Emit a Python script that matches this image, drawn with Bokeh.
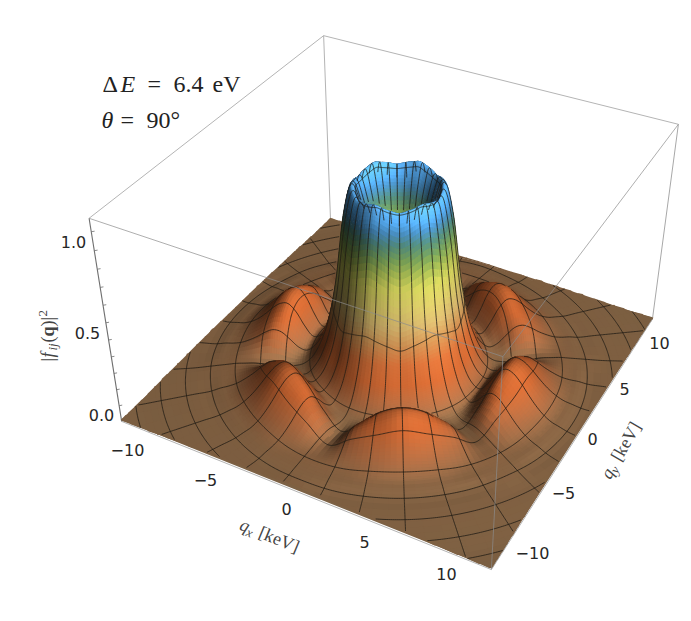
import numpy as np
from bokeh.plotting import figure
from bokeh.models import Range1d, ColumnDataSource
from bokeh.core.properties import value
from bokeh.embed import file_html
from bokeh.resources import INLINE

# ---- values -----------------------------------------------------------
HALF_RANGE = 11.5           # qx, qy box half width
Z_TOP = 1.17
QX_TICKS = [-10, -5, 0, 5, 10]
QY_TICKS = [-10, -5, 0, 5, 10]
Z_TICKS = [0.0, 0.5, 1.0]

# height profiles |f|^2 along rays: 0, 10, 20, 30 degrees away from a lobe
RADII = [0, .5, 1, 1.5, 2, 2.5, 3, 3.5, 4, 4.5, 5, 5.5, 6, 6.5, 7, 7.5, 8, 8.5, 9, 9.5, 10, 10.5, 11, 12, 13, 14, 15, 17]
Z_00 = [.62, .63, .66, .76, .96, 1.065, .85, .50, .27, .15, .09, .08, .14, .22, .265, .26, .22, .165, .115, .075, .05, .04, .03, .025, .02, .015, .01, .01]
Z_10 = [.62, .63, .66, .76, .96, 1.075, .87, .52, .29, .16, .09, .07, .12, .19, .23, .22, .185, .14, .10, .07, .05, .04, .03, .025, .02, .015, .01, .01]
Z_20 = [.62, .63, .66, .77, .97, 1.085, .90, .54, .31, .17, .09, .05, .06, .10, .14, .15, .13, .10, .075, .055, .045, .04, .03, .025, .02, .015, .01, .01]
Z_30 = [.62, .63, .66, .77, .98, 1.095, .92, .56, .32, .18, .09, .045, .03, .03, .035, .04, .045, .05, .05, .05, .045, .04, .035, .025, .02, .015, .01, .01]
LOBE_PHASE = -60.0          # direction of one of the six lobes, degrees
N_SPOKES = 32
RING_RADII = [.85, 2.3, 3.75, 5.2, 6.65, 8.1, 9.55, 11, 12.45, 13.9, 15.35]

# colour of the surface by height, before lighting
CZ = [0, .04, .1, .2, .3, .4, .5, .6, .7, .78, .85, .92, .98, 1.03, 1.1]
CR = [148, 152, 170, 195, 205, 200, 205, 210, 205, 160, 115, 80, 72, 85, 100]
CG = [115, 112, 104, 98, 108, 140, 175, 195, 205, 180, 155, 135, 140, 170, 185]
CB = [80, 76, 64, 48, 55, 80, 105, 100, 90, 80, 85, 120, 190, 240, 255]

# ---- camera: projective map fitted on the eight box corners -------------
L, T = HALF_RANGE, Z_TOP
WORLD = np.array([[-L, -L, 0], [L, -L, 0], [L, L, 0], [-L, L, 0], [-L, -L, T], [L, -L, T], [L, L, T], [-L, L, T]])
IMAGE = np.array([[121, 421], [491, 569], [652, 318], [330, 220], [89, 217], [502, 357], [678, 124], [323, 35]], float)
A = []
for (X, Y, Z), (u, v) in zip(WORLD, IMAGE):
    A.append([X, Y, Z, 1, 0, 0, 0, 0, -u * X, -u * Y, -u * Z, -u])
    A.append([0, 0, 0, 0, X, Y, Z, 1, -v * X, -v * Y, -v * Z, -v])
P = np.linalg.svd(np.array(A))[2][-1].reshape(3, 4)
P = P / (P[2] @ np.array([0, 0, 0, 1.0]))


def project(x, y, z):
    x, y, z = np.asarray(x, float), np.asarray(y, float), np.asarray(z, float)
    w = P[2, 0] * x + P[2, 1] * y + P[2, 2] * z + P[2, 3]
    u = (P[0, 0] * x + P[0, 1] * y + P[0, 2] * z + P[0, 3]) / w
    v = (P[1, 0] * x + P[1, 1] * y + P[1, 2] * z + P[1, 3]) / w
    return u, v, w


# ---- surface lookup: smooth rendering of the table above ---------------
def hermite(xk, yk, xq):
    xk = np.asarray(xk, float)
    yk = np.asarray(yk, float)
    m = np.gradient(yk, xk)
    i = np.clip(np.searchsorted(xk, xq) - 1, 0, len(xk) - 2)
    h = xk[i + 1] - xk[i]
    t = (xq - xk[i]) / h
    return ((2 * t**3 - 3 * t**2 + 1) * yk[i] + (t**3 - 2 * t**2 + t) * h * m[i]
            + (-2 * t**3 + 3 * t**2) * yk[i + 1] + (t**3 - t**2) * h * m[i + 1])


LUT_R = np.linspace(0, 17, 1701)
LUT_PHI = np.linspace(0, 30, 61)
prof = [hermite(RADII, c, LUT_R) for c in (Z_00, Z_10, Z_20, Z_30)]
ext_phi = [-20, -10, 0, 10, 20, 30, 40, 50]
ext_idx = [2, 1, 0, 1, 2, 3, 2, 1]
LUT = np.zeros((len(LUT_R), len(LUT_PHI)))
for i in range(len(LUT_R)):
    LUT[i] = hermite(ext_phi, [prof[k][i] for k in ext_idx], LUT_PHI)


def z_polar(r, th):
    r = np.asarray(r, float)
    phi = np.mod(np.asarray(th, float) - LOBE_PHASE, 60.0)
    phi = np.minimum(phi, 60.0 - phi)
    a = np.clip(r / 0.01, 0, len(LUT_R) - 1.001)
    b = np.clip(phi / 0.5, 0, len(LUT_PHI) - 1.001)
    i, j = a.astype(int), b.astype(int)
    fa, fb = a - i, b - j
    return ((1 - fa) * (1 - fb) * LUT[i, j] + fa * (1 - fb) * LUT[i + 1, j]
            + (1 - fa) * fb * LUT[i, j + 1] + fa * fb * LUT[i + 1, j + 1])


def z_xy(x, y):
    return z_polar(np.hypot(x, y), np.degrees(np.arctan2(y, x)))


# ---- depth buffer for hiding lines and unseen faces --------------------
W, H = 691, 621
zbuf = np.full((H, W), np.inf)
rs = np.concatenate([np.arange(0, 6.5, .006), np.arange(6.5, 11, .015), np.arange(11, 16.4, .03)])
ths = np.arange(0, 360, .2)
for chunk in np.array_split(rs, 40):
    rr, tt = np.meshgrid(chunk, ths, indexing="ij")
    xx, yy = rr * np.cos(np.radians(tt)), rr * np.sin(np.radians(tt))
    ok = (np.abs(xx) <= L) & (np.abs(yy) <= L)
    xx, yy, rr2, tt2 = xx[ok], yy[ok], rr[ok], tt[ok]
    u, v, w = project(xx, yy, z_polar(rr2, tt2))
    iu, iv = np.round(u).astype(int), np.round(v).astype(int)
    g = (iu >= 0) & (iu < W) & (iv >= 0) & (iv < H)
    np.minimum.at(zbuf, (iv[g], iu[g]), w[g])


def visible(u, v, w, eps):
    iu, iv = np.round(u).astype(int), np.round(v).astype(int)
    g = (iu >= 0) & (iu < W) & (iv >= 0) & (iv < H)
    out = np.zeros(len(u), bool)
    out[g] = w[g] <= zbuf[iv[g], iu[g]] + eps
    return out


# ---- faces -------------------------------------------------------------
LIGHT = np.array([np.cos(np.radians(35)) * np.cos(np.radians(-26)), np.cos(np.radians(35)) * np.sin(np.radians(-26)), np.sin(np.radians(35))])
AMB, DIF, ZS = 0.34, 0.85, 8.5


def face_colour(x, y, z):
    d = .05
    zx = (z_xy(x + d, y) - z_xy(x - d, y)) / (2 * d) * ZS
    zy = (z_xy(x, y + d) - z_xy(x, y - d)) / (2 * d) * ZS
    n = np.stack([-zx, -zy, np.ones_like(zx)])
    n = n / np.linalg.norm(n, axis=0)
    s = AMB + DIF * np.maximum(LIGHT[0] * n[0] + LIGHT[1] * n[1] + LIGHT[2] * n[2], 0)
    c = [np.clip(np.interp(z, CZ, ch) * s, 0, 255).astype(int) for ch in (CR, CG, CB)]
    return ["#%02x%02x%02x" % t for t in zip(*c)]


def clip_square(pts):
    for axis, sign in ((0, 1), (0, -1), (1, 1), (1, -1)):
        res = []
        for i in range(len(pts)):
            a, b = pts[i], pts[(i + 1) % len(pts)]
            ia, ib = sign * a[axis] <= L, sign * b[axis] <= L
            if ia:
                res.append(a)
            if ia != ib:
                t = (L - sign * a[axis]) / (sign * b[axis] - sign * a[axis])
                res.append((a[0] + t * (b[0] - a[0]), a[1] + t * (b[1] - a[1])))
        pts = res
        if not pts:
            break
    return pts


bands = [(np.arange(0, 1.5, .15), 6.0), (np.arange(1.5, 5.5, .05), 3.0), (np.arange(5.5, 10, .13), 2.0),
         (np.arange(10, 11, .2), 3.0), (np.arange(11, 16.6, .4), 4.0)]
polys = []
for redges, dth in bands:
    redges = np.append(redges, redges[-1] + (redges[1] - redges[0]))
    for r0, r1 in zip(redges[:-1], redges[1:]):
        for t0 in np.arange(0, 360, dth):
            t1 = t0 + dth
            quad = [(r0 * np.cos(np.radians(a)), r0 * np.sin(np.radians(a))) if q == 0 else
                    (r1 * np.cos(np.radians(a)), r1 * np.sin(np.radians(a)))
                    for q, a in ((0, t0), (0, t1), (1, t1), (1, t0))]
            xy = np.array(quad)
            if np.all(np.abs(xy) <= L):
                pts = quad
            elif np.hypot(xy[:, 0], xy[:, 1]).min() > L * 1.45:
                continue
            else:
                pts = clip_square(quad)
                if len(pts) < 3:
                    continue
            polys.append(np.array(pts))

cx = np.array([p[:, 0].mean() for p in polys])
cy = np.array([p[:, 1].mean() for p in polys])
cz = z_xy(cx, cy)
uc, vc, wc = project(cx, cy, cz)
keep = visible(uc, vc, wc, .012)
for i, pl in enumerate(polys):
    if not keep[i]:
        u, v, w = project(pl[:, 0], pl[:, 1], z_xy(pl[:, 0], pl[:, 1]))
        keep[i] = visible(u, v, w, .012).any()
order = [i for i in np.argsort(-wc) if keep[i]]
colours = face_colour(cx, cy, cz)
xs, ys, cs = [], [], []
for i in order:
    pl = polys[i]
    u, v, w = project(pl[:, 0], pl[:, 1], z_xy(pl[:, 0], pl[:, 1]))
    mu, mv = u.mean(), v.mean()
    du, dv = u - mu, v - mv
    d = np.hypot(du, dv) + 1e-6
    xs.append((u + du / d * .8).round(2).tolist())
    ys.append((v + dv / d * .8).round(2).tolist())
    cs.append(colours[i])

# ---- figure ------------------------------------------------------------
p = figure(width=691, height=621, x_range=Range1d(0, 691), y_range=Range1d(621, 0), output_backend="svg",
           toolbar_location=None, min_border=0, outline_line_color=None, background_fill_color="white", border_fill_color="white")
p.axis.visible = False
p.grid.visible = False


def box_edge(a, b, color, alpha=1.0, width=1.0):
    u, v, _ = project(*np.array([WORLD[a], WORLD[b]]).T)
    p.line(u, v, line_color=color, line_alpha=alpha, line_width=width)


for a, b in ((0, 3), (3, 2), (3, 7), (7, 4), (7, 6)):
    box_edge(a, b, "#b4b4b4")
box_edge(0, 4, "#6e6e6e", width=1.1)
box_edge(2, 6, "#a8a8a8")

under_u, under_v, _ = project([-L, L, L, -L], [-L, -L, L, L], [.01, .01, .01, .01])
p.patch(under_u, under_v, fill_color="#7d6144", line_color=None)
p.patches(xs="xs", ys="ys", fill_color="cs", line_color=None, source=ColumnDataSource(dict(xs=xs, ys=ys, cs=cs)))

# ---- mesh lines --------------------------------------------------------
mesh_u, mesh_v = [], []


def add_path(x, y):
    inside = (np.abs(x) <= L) & (np.abs(y) <= L)
    u, v, w = project(x, y, z_xy(x, y))
    vis = visible(u, v, w, .010) & inside
    mesh_u.extend(np.where(vis, u, np.nan).round(2).tolist() + [float("nan")])
    mesh_v.extend(np.where(vis, v, np.nan).round(2).tolist() + [float("nan")])


for r in RING_RADII:
    a = np.radians(np.arange(0, 360.5, .5))
    add_path(r * np.cos(a), r * np.sin(a))
rr = np.concatenate([np.arange(.85, 6.5, .04), np.arange(6.5, 16.4, .1)])
for j in range(N_SPOKES):
    a = np.radians(-60 + j * 360.0 / N_SPOKES)
    add_path(rr * np.cos(a), rr * np.sin(a))
p.line(mesh_u, mesh_v, line_color="#1e1a14", line_alpha=.85, line_width=.9)

# front box edges seen through the plot
for a, b in ((1, 5), (4, 5), (5, 6)):
    box_edge(a, b, "#8c8c8c", alpha=.7)
for a, b in ((0, 1), (1, 2)):
    box_edge(a, b, "#a0a0a0", alpha=.8)
for zt in np.arange(.1, 1.15, .1):
    u, v, _ = project([-L, -L + .12], [-L, -L + .12], [zt, zt])
    p.line(u, v, line_color="#6e6e6e", line_width=.8)

# ---- tick labels -------------------------------------------------------
TICK_FONT = value("DejaVu Sans")


def fmt(t):
    return str(t).replace("-", "\u2212")


def tick_text(lx, ly, labels):
    p.text(lx, ly, text=labels, text_font=TICK_FONT, text_font_size="16px", text_color="#262626", text_align="center", text_baseline="middle")


tick_text([127, 205, 286, 364, 446], [449, 479, 508, 541, 573], [fmt(t) for t in QX_TICKS])
tick_text([532, 563, 592, 624, 659], [552, 492, 438, 388, 342], [fmt(t) for t in QY_TICKS])
tick_text([73, 87, 101], [241, 332, 414], ["%.1f" % t for t in Z_TICKS][::-1])


# ---- typeset labels ----------------------------------------------------
def runs(x0, y0, angle_deg, items, color="#222222"):
    a = np.radians(angle_deg)
    dx, dy = np.cos(a), -np.sin(a)
    px, py = np.sin(a), np.cos(a)
    s = 0.0
    for txt, style, size, adv, drop in items:
        d = drop - .35 * size
        p.text([x0 + s * dx + d * px], [y0 + s * dy + d * py], text=[txt], angle=a,
               text_font=value("Liberation Serif"), text_font_style=style, text_font_size="%.1fpx" % size,
               text_color=color, text_align="left", text_baseline="alphabetic")
        s += adv


runs(102, 92, 0, [("\u0394", "normal", 24, 18, 0), ("E", "italic", 24, 27, 0), ("=", "normal", 24, 26, 0),
                  ("6.4", "normal", 24, 39, 0), ("eV", "normal", 24, 28, 0)])
runs(101, 128, 0, [("\u03b8", "italic", 24, 19, 0), ("=", "normal", 24, 26, 0), ("90\u00b0", "normal", 24, 34, 0)])
KEV = [("[keV]", "normal", 18, 42, 0)]
runs(238, 529, -22.5, [("q", "italic", 18, 8.5, 0), ("x", "italic", 13, 12, 3)] + KEV, "#444444")
runs(610, 480, 60, [("q", "italic", 18, 8.5, 0), ("y", "italic", 13, 12, 3)] + KEV, "#444444")
runs(54, 361, 90, [("|", "normal", 18, 4, 0), ("f", "italic", 18, 7, 0), ("ij", "italic", 13, 8, 3), ("(", "normal", 18, 6, 0),
                   ("q", "bold", 18, 10, 0), (")", "normal", 18, 6, 0), ("|", "normal", 18, 4, 0), ("2", "normal", 13, 7, -7)], "#444444")

open("out.html", "w").write(file_html(p, INLINE))
